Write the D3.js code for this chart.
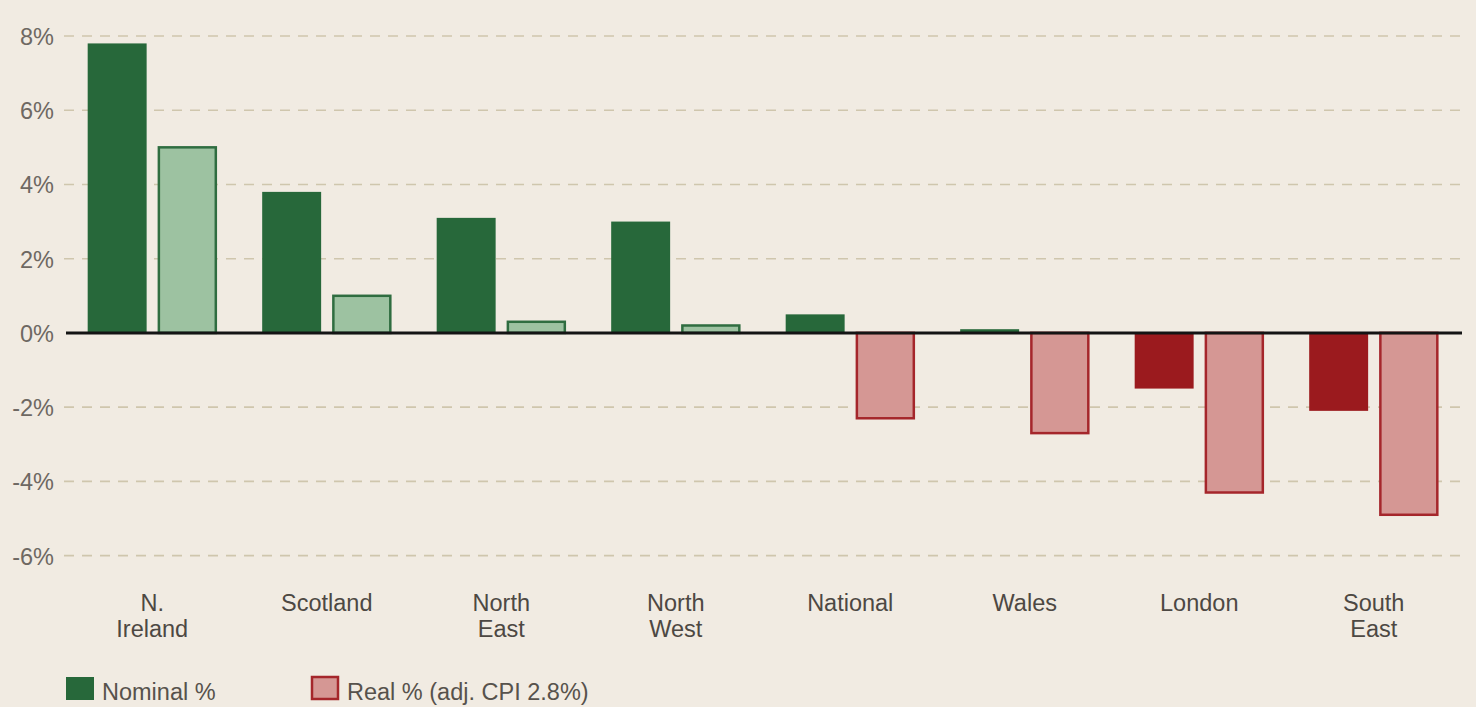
<!DOCTYPE html>
<html>
<head>
<meta charset="utf-8">
<script src="https://cdn.jsdelivr.net/npm/d3@7"></script>
<style>
  html, body { margin: 0; padding: 0; background: #f1ebe2; }
  svg { display: block; font-family: "Liberation Sans", Arial, sans-serif; }
</style>
</head>
<body>
<div id="chart"></div>
<script>
// --- DATA ---
const regions = ["N.\nIreland", "Scotland", "North\nEast", "North\nWest", "National", "Wales", "London", "South\nEast"];
const nominal = [7.8, 3.8, 3.1, 3.0, 0.5, 0.1, -1.5, -2.1];
const real = [5.0, 1.0, 0.3, 0.2, -2.3, -2.7, -4.3, -4.9];
const yTicks = [8, 6, 4, 2, 0, -2, -4, -6];
const legendLabels = ["Nominal %", "Real % (adj. CPI 2.8%)"];

// --- SETUP ---
const width = 1476, height = 707;
const fontSize = "23.5px";
const svg = d3.select("#chart").append("svg")
    .attr("width", width)
    .attr("height", height);

svg.append("rect").attr("width", width).attr("height", height).attr("fill", "#f1ebe2");

const x0 = d3.scaleBand()
    .domain(regions)
    .range([65, 1461])
    .paddingInner(0.26)
    .paddingOuter(0.13);

const x1 = d3.scaleBand()
    .domain(["nominal", "real"])
    .range([0, x0.bandwidth()])
    .paddingInner(0.16);

const y = d3.scaleLinear()
    .domain([-6, 8])
    .range([555.6, 36]);

const colors = {
    nominalPos: "#27683a",
    nominalNeg: "#9b1a1e",
    realPosFill: "#9dc2a1",
    realPosStroke: "#2f6d40",
    realNegFill: "#d59794",
    realNegStroke: "#a5262b"
};

// --- GRID ---
const grid = svg.append("g");
grid.selectAll("line")
    .data(yTicks.filter(d => d !== 0))
    .join("line")
    .attr("x1", 64)
    .attr("x2", 1462)
    .attr("y1", d => y(d))
    .attr("y2", d => y(d))
    .attr("stroke", "#cfc6ad")
    .attr("stroke-width", 1.6)
    .attr("stroke-dasharray", "10,8");

// --- Y AXIS ---
const yAxis = d3.axisLeft(y)
    .tickValues(yTicks)
    .tickFormat(d => d + "%")
    .tickSize(0)
    .tickPadding(0);

svg.append("g")
    .attr("transform", "translate(54,0)")
    .call(yAxis)
    .call(g => g.select(".domain").remove())
    .call(g => g.selectAll("text")
        .attr("fill", "#6e6862")
        .attr("font-size", fontSize)
        .attr("font-family", "Liberation Sans, Arial, sans-serif")
        .attr("dy", "0.36em"));

// --- BARS ---
const rows = regions.map((r, i) => ({ region: r, nominal: nominal[i], real: real[i] }));

const groups = svg.append("g")
    .selectAll("g")
    .data(rows)
    .join("g")
    .attr("transform", d => `translate(${x0(d.region)},0)`);

groups.append("rect")
    .attr("x", x1("nominal"))
    .attr("width", x1.bandwidth())
    .attr("y", d => y(Math.max(0, d.nominal)))
    .attr("height", d => Math.abs(y(d.nominal) - y(0)))
    .attr("fill", d => d.nominal >= 0 ? colors.nominalPos : colors.nominalNeg);

groups.append("rect")
    .attr("x", x1("real") + 1)
    .attr("width", x1.bandwidth() - 2)
    .attr("y", d => y(Math.max(0, d.real)))
    .attr("height", d => Math.abs(y(d.real) - y(0)))
    .attr("fill", d => d.real >= 0 ? colors.realPosFill : colors.realNegFill)
    .attr("stroke", d => d.real >= 0 ? colors.realPosStroke : colors.realNegStroke)
    .attr("stroke-width", 2.5);

// --- ZERO LINE ---
svg.append("line")
    .attr("x1", 66)
    .attr("x2", 1462)
    .attr("y1", y(0))
    .attr("y2", y(0))
    .attr("stroke", "#141414")
    .attr("stroke-width", 3);

// --- X LABELS ---
const xLabels = svg.append("g")
    .selectAll("text")
    .data(regions)
    .join("text")
    .attr("x", d => x0(d) + x0.bandwidth() / 2)
    .attr("y", 611)
    .attr("text-anchor", "middle")
    .attr("fill", "#4d4843")
    .attr("font-size", fontSize);

xLabels.selectAll("tspan")
    .data(d => d.split("\n"))
    .join("tspan")
    .attr("x", function () { return d3.select(this.parentNode).attr("x"); })
    .attr("dy", (d, i) => i === 0 ? 0 : 26)
    .text(d => d);

// --- LEGEND ---
const legend = svg.append("g");
const legendX = [66, 311];

legend.append("rect")
    .attr("x", legendX[0]).attr("y", 677)
    .attr("width", 28).attr("height", 23)
    .attr("fill", colors.nominalPos);

legend.append("rect")
    .attr("x", legendX[1] + 1).attr("y", 677)
    .attr("width", 26).attr("height", 22)
    .attr("fill", colors.realNegFill)
    .attr("stroke", colors.realNegStroke)
    .attr("stroke-width", 2.5);

legend.selectAll("text")
    .data(legendLabels)
    .join("text")
    .attr("x", (d, i) => legendX[i] + 36)
    .attr("y", 700)
    .attr("fill", "#57524c")
    .attr("font-size", fontSize)
    .text(d => d);
</script>
</body>
</html>
